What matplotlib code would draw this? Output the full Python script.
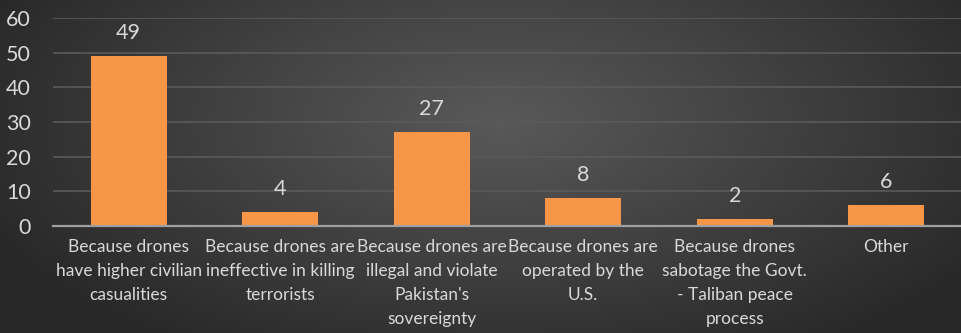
import numpy as np
import matplotlib.pyplot as plt

categories = [
    "Because drones\nhave higher civilian\ncasualities",
    "Because drones are\nineffective in killing\nterrorists",
    "Because drones are\nillegal and violate\nPakistan's\nsovereignty",
    "Because drones are\noperated by the\nU.S.",
    "Because drones\nsabotage the Govt.\n- Taliban peace\nprocess",
    "Other",
]
values = [49, 4, 27, 8, 2, 6]
y_ticks = [0, 10, 20, 30, 40, 50, 60]

BAR_COLOR = "#f79646"
TEXT_COLOR = "#d9d9d9"
FONT = ["Lato", "DejaVu Sans"]

plt.rcParams["font.family"] = FONT

fig = plt.figure(figsize=(9.62, 3.33), dpi=100)

# radial gradient background
bg = fig.add_axes([0, 0, 1, 1])
yy, xx = np.mgrid[0:333, 0:962]
r = np.sqrt(((xx - 500) / 560.0) ** 2 + ((yy - 120) / 270.0) ** 2)
r = np.clip(r, 0, 1)
shade = 0.35 - 0.19 * r
bg.imshow(np.dstack([shade, shade, shade]), aspect="auto", extent=[0, 1, 0, 1])
bg.axis("off")

ax = fig.add_axes([53 / 962, 1 - 226 / 333, (962 - 53) / 962, (226 - 18) / 333])
ax.patch.set_alpha(0)

x = np.arange(len(categories))
ax.bar(x, values, width=0.5, color=BAR_COLOR, zorder=3)

for xi, v in zip(x, values):
    ax.text(xi, v + 4.9, str(v), ha="center", va="baseline",
            color=TEXT_COLOR, fontsize=15.5)

ax.set_xlim(-0.5, len(categories) - 0.5)
ax.set_ylim(0, 60)
ax.set_yticks(y_ticks)
ax.set_yticklabels([str(t) for t in y_ticks], color=TEXT_COLOR, fontsize=15.5)
ax.set_xticks(x)
ax.set_xticklabels(categories, color=TEXT_COLOR, fontsize=12.5, linespacing=1.62, va="top")

ax.yaxis.grid(True, color="#5a5a5a", linewidth=1.2, zorder=0)
ax.tick_params(axis="both", length=0)
ax.tick_params(axis="y", pad=16)
ax.tick_params(axis="x", pad=9)
for s in ["top", "right", "left"]:
    ax.spines[s].set_visible(False)
ax.spines["bottom"].set_color("#a0a0a0")
ax.spines["bottom"].set_linewidth(1.6)
ax.spines["bottom"].set_zorder(4)

fig.savefig("out.png", dpi=100)
